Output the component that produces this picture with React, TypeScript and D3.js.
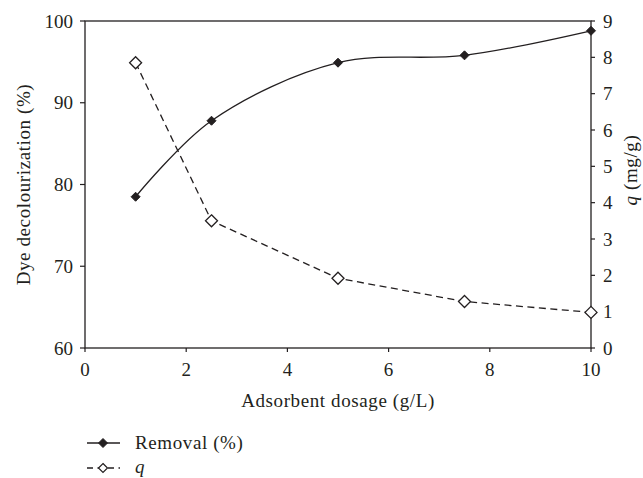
import React from "react";
import * as d3 from "d3";

const dosage = [1, 2.5, 5, 7.5, 10];
const removal = [78.5, 87.8, 94.9, 95.8, 98.8];
const qValues = [7.85, 3.5, 1.92, 1.28, 0.98];
const xTicks = [0, 2, 4, 6, 8, 10];
const leftTicks = [60, 70, 80, 90, 100];
const rightTicks = [0, 1, 2, 3, 4, 5, 6, 7, 8, 9];

const W = 643;
const H = 478;
const m = { left: 85, right: 591, top: 21, bottom: 348 };
const font = "'Liberation Serif', 'DejaVu Serif', serif";
const fs = 19;
const spacing = 0.6;

export default function App() {
  const x = d3.scaleLinear().domain([0, 10]).range([m.left, m.right]);
  const yL = d3.scaleLinear().domain([60, 100]).range([m.bottom, m.top]);
  const yR = d3.scaleLinear().domain([0, 9]).range([m.bottom, m.top]);

  const smooth = d3
    .line<number>()
    .x((_, i) => x(dosage[i]))
    .y((d) => yL(d))
    .curve(d3.curveCatmullRom.alpha(0.5));
  const straight = d3
    .line<number>()
    .x((_, i) => x(dosage[i]))
    .y((d) => yR(d));

  const diamond = (cx: number, cy: number, r: number) =>
    `M${cx},${cy - r}L${cx + r},${cy}L${cx},${cy + r}L${cx - r},${cy}Z`;

  const c = "#231f20";
  const dash = "7,4.5";

  return (
    <svg width={W} height={H} style={{ position: "absolute", left: 0, top: 0 }}>
      <rect width={W} height={H} fill="#fff" />
      {/* frame */}
      <rect
        x={m.left}
        y={m.top}
        width={m.right - m.left}
        height={m.bottom - m.top}
        fill="none"
        stroke={c}
        strokeWidth={1.3}
      />

      {/* x ticks */}
      {xTicks.map((t) => (
        <g key={"x" + t}>
          <line x1={x(t)} x2={x(t)} y1={m.bottom} y2={m.bottom + 4} stroke={c} strokeWidth={1.2} />
          <text x={x(t)} y={m.bottom + 28} textAnchor="middle" fontFamily={font} fontSize={fs} fill={c}>
            {t}
          </text>
        </g>
      ))}
      {/* left ticks */}
      {leftTicks.map((t) => (
        <g key={"l" + t}>
          <line x1={m.left - 5} x2={m.left} y1={yL(t)} y2={yL(t)} stroke={c} strokeWidth={1.2} />
          <text x={m.left - 12} y={yL(t) + 6.5} textAnchor="end" fontFamily={font} fontSize={fs} fill={c}>
            {t}
          </text>
        </g>
      ))}
      {/* right ticks */}
      {rightTicks.map((t) => (
        <g key={"r" + t}>
          <line x1={m.right} x2={m.right + 4} y1={yR(t)} y2={yR(t)} stroke={c} strokeWidth={1.2} />
          <text x={m.right + 12} y={yR(t) + 6.5} textAnchor="start" fontFamily={font} fontSize={fs} fill={c}>
            {t}
          </text>
        </g>
      ))}

      {/* axis titles */}
      <text
        x={(m.left + m.right) / 2}
        y={407}
        textAnchor="middle"
        fontFamily={font}
        fontSize={fs}
        letterSpacing={spacing}
        fill={c}
      >
        Adsorbent dosage (g/L)
      </text>
      <text
        transform={`translate(30,${(m.top + m.bottom) / 2}) rotate(-90)`}
        textAnchor="middle"
        fontFamily={font}
        fontSize={fs}
        letterSpacing={spacing}
        fill={c}
      >
        Dye decolourization (%)
      </text>
      <text
        transform={`translate(637,170) rotate(-90)`}
        textAnchor="middle"
        fontFamily={font}
        fontSize={fs}
        letterSpacing={spacing}
        fill={c}
      >
        <tspan fontStyle="italic">q</tspan> (mg/g)
      </text>

      {/* q series */}
      <path d={straight(qValues) || ""} fill="none" stroke={c} strokeWidth={1.3} strokeDasharray={dash} />
      {qValues.map((v, i) => (
        <path key={"q" + i} d={diamond(x(dosage[i]), yR(v), 6)} fill="#fff" stroke={c} strokeWidth={1.3} />
      ))}

      {/* removal series */}
      <path d={smooth(removal) || ""} fill="none" stroke={c} strokeWidth={1.3} />
      {removal.map((v, i) => (
        <path key={"rm" + i} d={diamond(x(dosage[i]), yL(v), 4.5)} fill={c} stroke={c} strokeWidth={1} />
      ))}

      {/* legend */}
      <line x1={87} x2={120} y1={443} y2={443} stroke={c} strokeWidth={1.3} />
      <path d={diamond(103, 443, 4.5)} fill={c} stroke={c} strokeWidth={1} />
      <text x={135} y={449} fontFamily={font} fontSize={fs} letterSpacing={spacing} fill={c}>
        Removal (%)
      </text>
      <line x1={87} x2={120} y1={468} y2={468} stroke={c} strokeWidth={1.3} strokeDasharray="6,4.5" />
      <path d={diamond(103, 468, 4.5)} fill="#fff" stroke={c} strokeWidth={1.2} />
      <text x={135} y={473} fontFamily={font} fontSize={fs} fontStyle="italic" fill={c}>
        q
      </text>
    </svg>
  );
}
